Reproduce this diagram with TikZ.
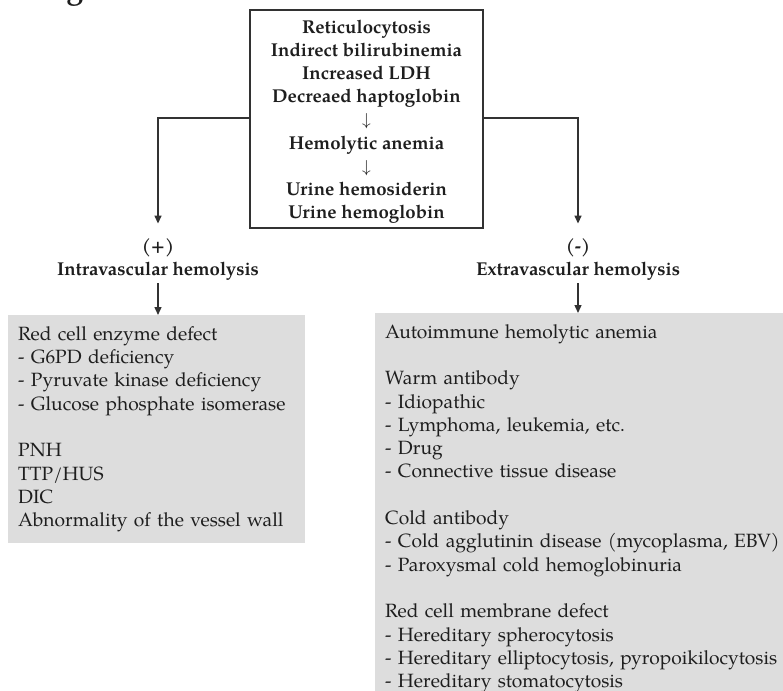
\documentclass[tikz,border=0pt]{standalone}
\usepackage{fontspec}
\setmainfont{TeX Gyre Pagella}
\usetikzlibrary{arrows.meta}
\definecolor{boxgrey}{RGB}{221,221,221}
\definecolor{linegrey}{RGB}{50,50,50}
\definecolor{ink}{RGB}{30,30,30}
\tikzset{
  txt/.style={text=ink, font=\fontsize{19.2}{23.3}\selectfont},
  boldtxt/.style={text=ink, font=\fontsize{18.6}{23.1}\selectfont\bfseries},
  headbox/.style={draw=linegrey, line width=1.4pt, minimum width=233pt, minimum height=218pt, inner sep=0pt},
  headtext/.style={boldtxt, align=center, inner sep=0pt},
  label/.style={boldtxt, inner sep=1pt},
  greybox/.style={txt, fill=boxgrey, align=left, anchor=north west, inner xsep=10pt, inner ysep=0pt},
  conn/.style={draw=linegrey, line width=1.4pt},
  arr/.style={conn, -{Triangle[length=8pt,width=7pt]}},
}
\begin{document}
\begin{tikzpicture}[x=1pt,y=-1pt]
\useasboundingbox (0,0) rectangle (783,690);

% descender of the heading letter cut by the top edge
\node[font=\fontsize{30}{30}\selectfont\bfseries, text=ink, anchor=base, inner sep=0pt] (cut) at (75,-1) {g};

% central box of findings
\node[headbox] (top) at (366.5,119) {};
\node[headtext, anchor=north] (toptext) at (366.5,20) {Reticulocytosis\\Indirect bilirubinemia\\Increased LDH\\Decreaed haptoglobin\\$\downarrow$\\Hemolytic anemia\\$\downarrow$\\Urine hemosiderin\\Urine hemoglobin};

% branch labels
\node[label] (plus) at (158,248) {(+)};
\node[label, anchor=base] (intra) at (158,275) {Intravascular hemolysis};
\node[label] (minus) at (578,248) {(-)};
\node[label, anchor=base] (extra) at (578,275) {Extravascular hemolysis};

% cause lists
\node[greybox, minimum width=297pt, minimum height=228pt, text width=277pt] (lbox) at (8,315)
  {Red cell enzyme defect\\- G6PD deficiency\\- Pyruvate kinase deficiency\\- Glucose phosphate isomerase\\[23.3pt]PNH\\TTP/HUS\\DIC\\Abnormality of the vessel wall};
\node[greybox, minimum width=420pt, text width=400pt, inner ysep=11pt] (rbox) at (375,313)
  {Autoimmune hemolytic anemia\\[23.3pt]Warm antibody\\- Idiopathic\\- Lymphoma, leukemia, etc.\\- Drug\\- Connective tissue disease\\[23.3pt]Cold antibody\\- Cold agglutinin disease (mycoplasma, EBV)\\- Paroxysmal cold hemoglobinuria\\[23.3pt]Red cell membrane defect\\- Hereditary spherocytosis\\- Hereditary elliptocytosis, pyropoikilocytosis\\- Hereditary stomatocytosis};

% connectors
\coordinate (lsplit) at (top.west |- 0,118);
\coordinate (rsplit) at (top.east |- 0,118);
\draw[arr] (lsplit) -| ([yshift=14pt]plus.north);
\draw[arr] (rsplit) -| ([yshift=14pt]minus.north);
\draw[arr] ([yshift=-2pt]intra.south) -- (intra.south |- lbox.north);
\draw[arr] ([yshift=-2pt]extra.south) -- (extra.south |- rbox.north);
\end{tikzpicture}
\end{document}
